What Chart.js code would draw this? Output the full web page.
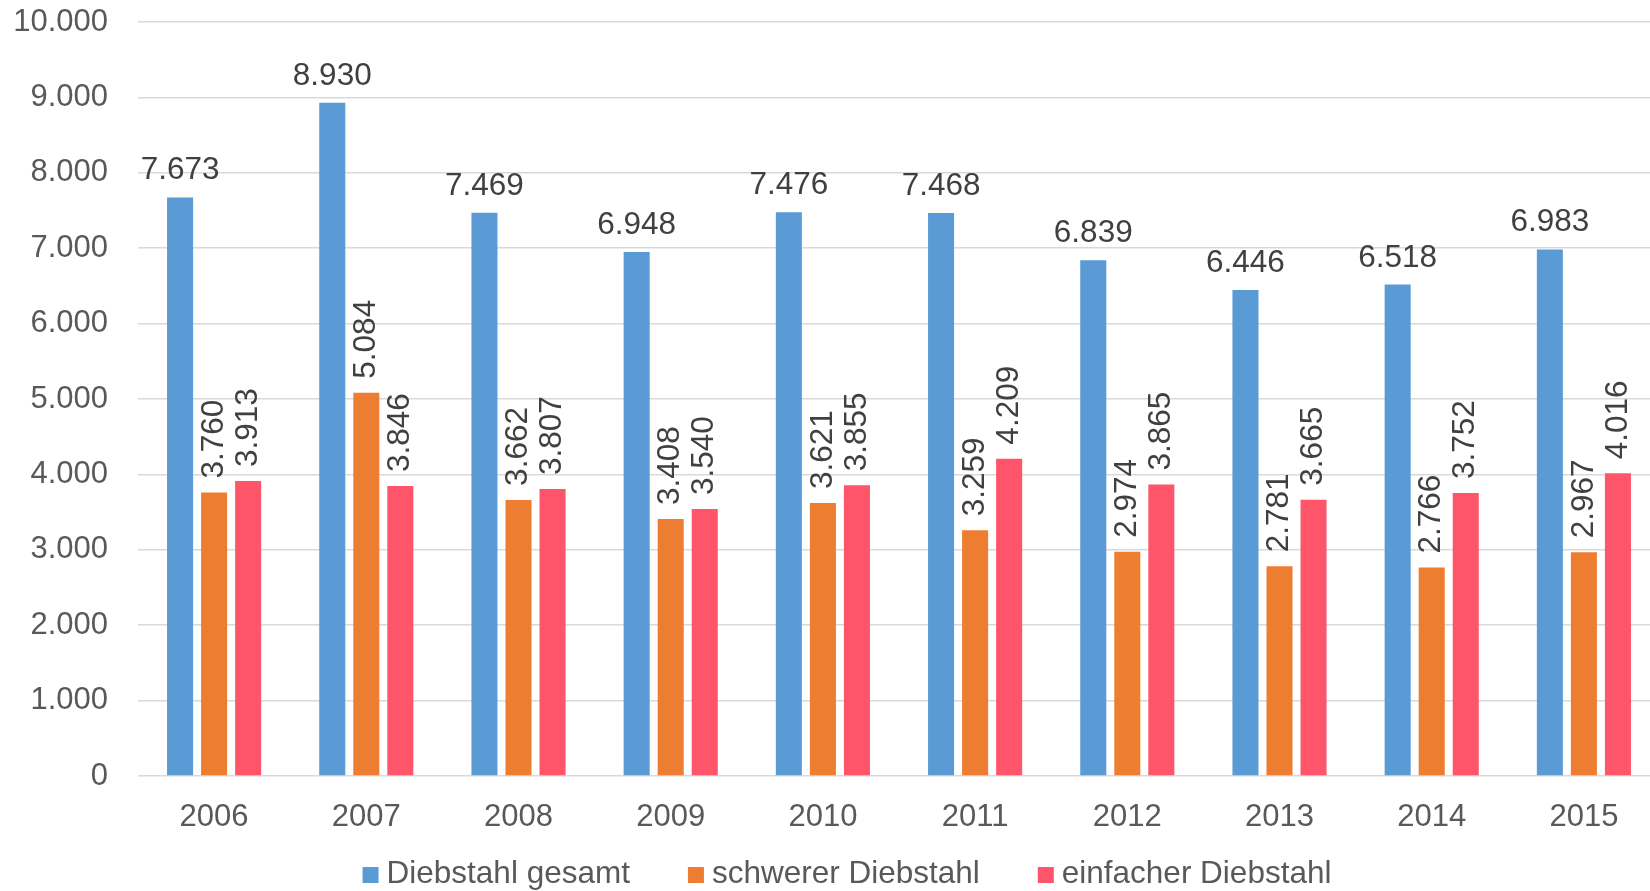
<!DOCTYPE html>
<html>
<head>
<meta charset="utf-8">
<script src="https://cdn.jsdelivr.net/npm/chart.js@4"></script>
<style>
  html, body { margin: 0; padding: 0; background: #fff; overflow: hidden; }
  #wrap { width: 1650px; height: 891px; overflow: hidden; }
</style>
</head>
<body>
<div id="wrap"><canvas id="chart" width="1660" height="891"></canvas></div>
<script>
const years = ['2006', '2007', '2008', '2009', '2010', '2011', '2012', '2013', '2014', '2015'];
const gesamt = [7673, 8930, 7469, 6948, 7476, 7468, 6839, 6446, 6518, 6983];
const schwer = [3760, 5084, 3662, 3408, 3621, 3259, 2974, 2781, 2766, 2967];
const einfach = [3913, 3846, 3807, 3540, 3855, 4209, 3865, 3665, 3752, 4016];
const yTicks = [0, 1000, 2000, 3000, 4000, 5000, 6000, 7000, 8000, 9000, 10000];

const FONT = '"Liberation Sans", Arial, sans-serif';
const fmt = v => String(v).replace(/\B(?=(\d{3})+(?!\d))/g, '.');

// value labels: blue ones flat above the bar, the others turned upright
const valueLabels = {
  id: 'valueLabels',
  afterDatasetsDraw(chart) {
    const ctx = chart.ctx;
    ctx.save();
    ctx.font = '31.5px ' + FONT;
    ctx.fillStyle = '#404040';
    chart.data.datasets.forEach((ds, i) => {
      chart.getDatasetMeta(i).data.forEach((bar, j) => {
        const txt = fmt(ds.data[j]);
        if (i === 0) {
          ctx.textAlign = 'center';
          ctx.textBaseline = 'alphabetic';
          ctx.fillText(txt, bar.x, bar.y - 18);
        } else {
          ctx.save();
          ctx.translate(bar.x, bar.y - 14);
          ctx.rotate(-Math.PI / 2);
          ctx.textAlign = 'left';
          ctx.textBaseline = 'middle';
          ctx.fillText(txt, 0, 0);
          ctx.restore();
        }
      });
    });
    ctx.restore();
  }
};

// legend drawn by hand, the built-in one spaces items too far apart vertically
const bottomLegend = {
  id: 'bottomLegend',
  afterDraw(chart) {
    const ctx = chart.ctx;
    const box = 16, gap = 8, spacing = 58, center = 847, baseline = 883;
    ctx.save();
    ctx.font = '31.5px ' + FONT;
    ctx.textAlign = 'left';
    ctx.textBaseline = 'alphabetic';
    const items = chart.data.datasets.map(ds => ({
      text: ds.label, color: ds.backgroundColor, w: ctx.measureText(ds.label).width
    }));
    const total = items.reduce((s, it) => s + box + gap + it.w, 0) + spacing * (items.length - 1);
    let x = center - total / 2;
    items.forEach(it => {
      ctx.fillStyle = it.color;
      ctx.fillRect(x, baseline - box, box, box);
      ctx.fillStyle = '#595959';
      ctx.fillText(it.text, x + box + gap, baseline);
      x += box + gap + it.w + spacing;
    });
    ctx.restore();
  }
};

new Chart(document.getElementById('chart'), {
  type: 'bar',
  data: {
    labels: years,
    datasets: [
      { label: 'Diebstahl gesamt', data: gesamt, backgroundColor: '#5B9BD5' },
      { label: 'schwerer Diebstahl', data: schwer, backgroundColor: '#ED7D31' },
      { label: 'einfacher Diebstahl', data: einfach, backgroundColor: '#FF556B' }
    ]
  },
  options: {
    responsive: false,
    animation: false,
    devicePixelRatio: 1,
    categoryPercentage: 0.671,
    barPercentage: 0.765,
    layout: { padding: { left: 13, top: 22, right: 0, bottom: 58 } },
    plugins: {
      legend: { display: false },
      tooltip: { enabled: false }
    },
    scales: {
      x: {
        grid: { display: false },
        border: { display: false },
        ticks: { color: '#595959', font: { family: FONT, size: 31 }, padding: 15 },
        afterFit: axis => { axis.height = 57; }
      },
      y: {
        min: 0,
        max: 10000,
        afterBuildTicks: axis => { axis.ticks = yTicks.map(v => ({ value: v })); },
        afterFit: axis => {
          axis.width = 125;
          axis.paddingTop = 0;
          axis.paddingBottom = 0;
        },
        grid: { color: '#D9D9D9', lineWidth: 1.5, drawTicks: false },
        border: { display: false },
        ticks: {
          color: '#595959',
          font: { family: FONT, size: 31 },
          padding: 30,
          callback: v => fmt(v)
        }
      }
    }
  },
  plugins: [valueLabels, bottomLegend]
});
</script>
</body>
</html>
